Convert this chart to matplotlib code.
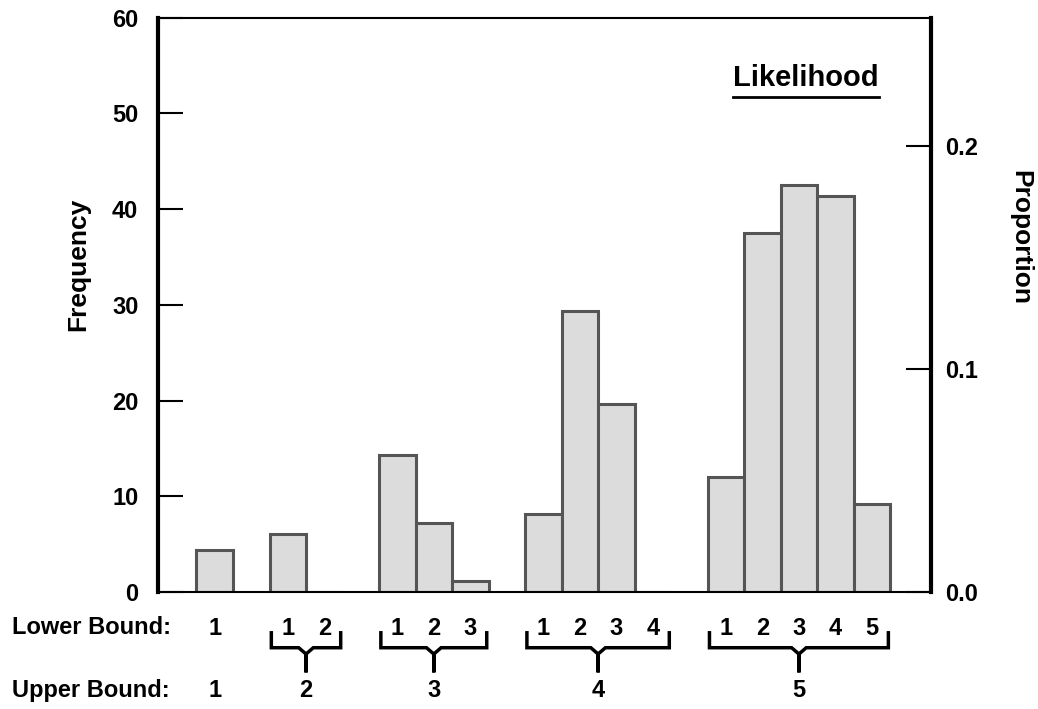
import matplotlib.pyplot as plt
import numpy as np

plt.rcParams['font.family'] = ['Liberation Sans', 'DejaVu Sans']

# frequency per (upper bound, lower bound) cell
upper_bounds = [1, 2, 3, 4, 5]
freq_ub1 = [4.4]
freq_ub2 = [6.1, 0.0]
freq_ub3 = [14.3, 7.2, 1.1]
freq_ub4 = [8.2, 29.4, 19.6, 0.0]
freq_ub5 = [12.0, 37.5, 42.5, 41.4, 9.2]
groups = [freq_ub1, freq_ub2, freq_ub3, freq_ub4, freq_ub5]

freq_ticks = [0, 10, 20, 30, 40, 50, 60]
prop_ticks = [0.0, 0.1, 0.2]

# lay the groups out side by side with a one-slot gap between them
positions, heights, lower_labels, group_spans = [], [], [], []
x = 0
for grp in groups:
    start = x
    for lb, v in enumerate(grp, start=1):
        positions.append(x)
        heights.append(v)
        lower_labels.append(str(lb))
        x += 1
    group_spans.append((start, x - 1))
    x += 1
total = sum(heights)

fs = 17
fig = plt.figure(figsize=(10.38, 7.09), dpi=100)
ax = fig.add_axes([0.152, 0.165, 0.745, 0.81])

ax.bar(positions, heights, width=1.0, color='#dcdcdc',
       edgecolor='#555555', linewidth=2.2)

ax.set_xlim(-1.56, 19.62)
ax.set_ylim(0, 60)
ax.set_yticks(freq_ticks)
ax.set_yticklabels([str(t) for t in freq_ticks], fontsize=fs, fontweight='bold')
ax.tick_params(axis='y', direction='in', length=18, width=1.5, pad=14)
ax.set_xticks(positions)
ax.set_xticklabels(lower_labels, fontsize=fs, fontweight='bold')
ax.tick_params(axis='x', length=0, pad=18)
ax.set_ylabel('Frequency', fontsize=19, fontweight='bold')
ax.yaxis.set_label_coords(-0.087, 0.57)

for side in ['left', 'right']:
    ax.spines[side].set_linewidth(3)
for side in ['top', 'bottom']:
    ax.spines[side].set_linewidth(1.5)

# proportion scale on the right, tied to the frequency axis
ax2 = ax.twinx()
ax2.set_ylim(0, 60 / total)
ax2.set_yticks(prop_ticks)
ax2.set_yticklabels(['%.1f' % t for t in prop_ticks], fontsize=fs, fontweight='bold')
ax2.tick_params(axis='y', direction='in', length=18, width=1.5, pad=10)
ax2.set_ylabel('Proportion', fontsize=19, fontweight='bold', rotation=270,
               va='center')
ax2.yaxis.set_label_coords(1.115, 0.617)
for side in ax2.spines:
    ax2.spines[side].set_visible(False)

# braces joining the lower-bound labels to their upper bound
trans = ax.get_xaxis_transform()
for ub, (a, b) in zip(upper_bounds, group_spans):
    mid = (a + b) / 2
    if a != b:
        x0, x1 = a - 0.45, b + 0.45
        bx = [x0, x0, mid - 0.2, mid, mid, mid, mid + 0.2, x1, x1]
        by = [-0.071, -0.097, -0.097, -0.108, -0.14, -0.108, -0.097, -0.097, -0.071]
        ax.plot(bx, by, transform=trans, color='black', lw=2.5, clip_on=False,
                solid_joinstyle='miter')
    ax.text(mid, -0.171, str(ub), transform=trans, ha='center', va='center',
            fontsize=fs, fontweight='bold')

fig.text(0.0116, 1 - 628 / 709, 'Lower Bound:', ha='left', va='center',
         fontsize=fs, fontweight='bold')
fig.text(0.0116, 1 - 690 / 709, 'Upper Bound:', ha='left', va='center',
         fontsize=fs, fontweight='bold')

title = ax.text(16.2, 0.895, 'Likelihood', transform=trans, ha='center',
                va='center', fontsize=21, fontweight='bold')
fig.canvas.draw()
bb = title.get_window_extent().transformed(ax.transAxes.inverted())
ax.plot([bb.x0, bb.x1], [bb.y0 - 0.008, bb.y0 - 0.008], transform=ax.transAxes,
        color='black', lw=2)

fig.savefig('out.png', dpi=100)
